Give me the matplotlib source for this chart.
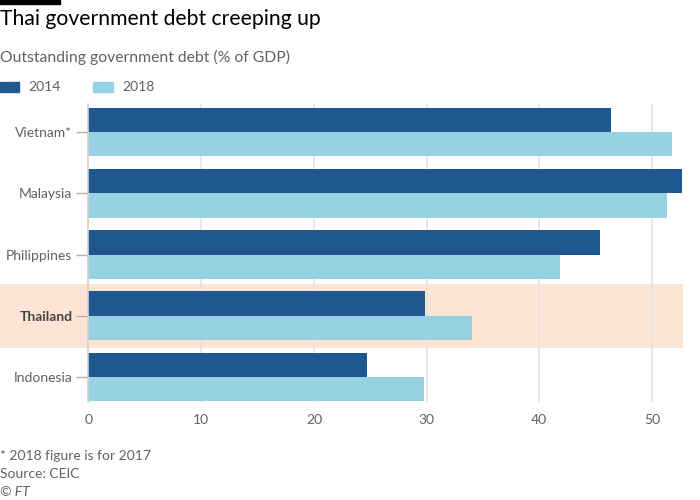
import matplotlib
matplotlib.use("Agg")
import matplotlib.pyplot as plt
from matplotlib.patches import Rectangle

categories = ["Vietnam*", "Malaysia", "Philippines", "Thailand", "Indonesia"]
debt_2014 = [46.4, 52.7, 45.4, 29.9, 24.7]
debt_2018 = [51.75, 51.3, 41.8, 34.0, 29.8]
series_labels = ["2014", "2018"]
x_ticks = [0, 10, 20, 30, 40, 50]
highlight = "Thailand"

plt.rcParams['font.family'] = ['Lato', 'DejaVu Sans']

C_DARK = "#1f5790"
C_LIGHT = "#96d2e4"
C_HL = "#fde5d5"
C_GRID = "#ebe2d9"
C_TXT = "#66605c"

fig = plt.figure(figsize=(7, 5), dpi=100)
ax = fig.add_axes([88.5/700, 1-402/500, (683-88.5)/700, (402-104)/500])

y = list(range(len(categories)))
h = 0.397
ax.barh([i - h/2 for i in y], debt_2014, height=h, color=C_DARK, zorder=3, label=series_labels[0])
ax.barh([i + h/2 for i in y], debt_2018, height=h, color=C_LIGHT, zorder=3, label=series_labels[1])

ax.set_xlim(0, 52.75)
ax.set_ylim(4.41, -0.46)

hi = categories.index(highlight)
ax.axhspan(hi - 0.525, hi + 0.525, xmin=-88.5/594.5, xmax=1.0, color=C_HL, zorder=0, clip_on=False, lw=0)

ax.set_xticks(x_ticks)
ax.xaxis.grid(True, color=C_GRID, lw=1.2, zorder=1)
for gl in ax.get_xgridlines():
    gl.set_zorder(1)
ax.tick_params(axis='x', length=0, labelsize=10, colors=C_TXT, pad=9)
ax.set_yticks(y)
ax.set_yticklabels(categories)
ax.tick_params(axis='y', length=8.6, width=1, color="#b8b0a8", labelsize=10, labelcolor=C_TXT, pad=3)
for lbl in ax.get_yticklabels():
    if lbl.get_text() == highlight:
        lbl.set_fontweight('bold')
        lbl.set_color("#4a4542")

for s in ["top", "right", "bottom"]:
    ax.spines[s].set_visible(False)
ax.spines["left"].set_color("#d9d0c7")
ax.spines["left"].set_linewidth(1.2)
ax.spines["left"].set_zorder(4)

# top black bar
fig.patches.append(Rectangle((0, 1-4/500), 60/700, 4/500, transform=fig.transFigure, color="black"))

fig.text(0.0, 1-19/500, "Thai government debt creeping up", fontsize=15.2, color="#000000", va="center", ha="left")
fig.text(0.0, 1-57/500, "Outstanding government debt (% of GDP)", fontsize=11.3, color=C_TXT, va="center", ha="left")

# legend
fig.patches.append(Rectangle((0, 1-92/500), 19/700, 10/500, transform=fig.transFigure, color=C_DARK))
fig.text(28/700, 1-87/500, series_labels[0], fontsize=10, color=C_TXT, va="center", ha="left")
fig.patches.append(Rectangle((93/700, 1-92/500), 20/700, 10/500, transform=fig.transFigure, color=C_LIGHT))
fig.text(122/700, 1-87/500, series_labels[1], fontsize=10, color=C_TXT, va="center", ha="left")

fig.text(0.0, 1-456/500, "* 2018 figure is for 2017", fontsize=10, color=C_TXT, va="center", ha="left")
fig.text(0.0, 1-474/500, "Source: CEIC", fontsize=10, color=C_TXT, va="center", ha="left")
fig.text(0.0, 1-492/500, "© FT", fontsize=10, color=C_TXT, va="center", ha="left", style="italic")

fig.savefig("out.png", dpi=100)
